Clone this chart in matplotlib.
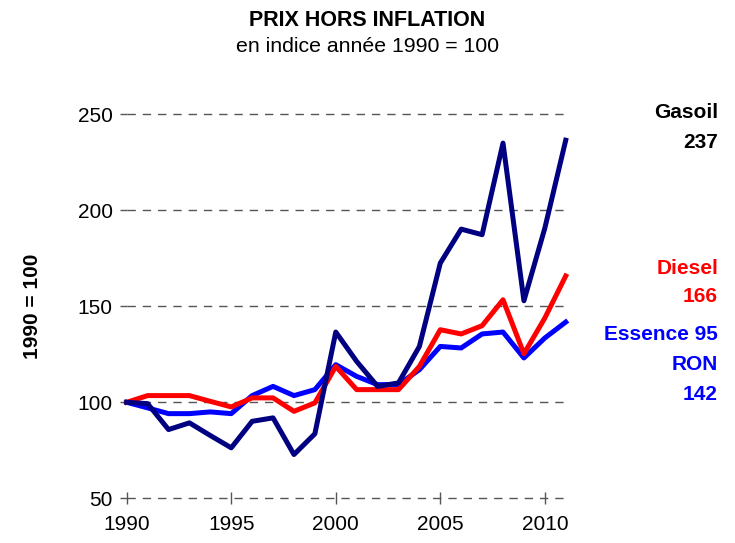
import matplotlib.pyplot as plt

plt.rcParams['font.family'] = ['Liberation Sans', 'DejaVu Sans']

years = list(range(1990, 2012))

gasoil = [100, 99.3, 85.8, 89.3, 82.7, 76.3, 90.1, 91.9, 72.8, 83.6, 136.6,
          121.3, 108.3, 110.1, 129.1, 172.5, 190.2, 187.3, 235.0, 152.9, 190.7, 236.5]
diesel = [100, 103.5, 103.5, 103.5, 100.5, 97.6, 102.3, 102.3, 95.3, 99.7, 118.7,
          106.6, 106.6, 106.6, 118.7, 137.8, 135.6, 139.9, 153.4, 125.3, 143.9, 165.8]
essence = [100, 97.1, 94.1, 94.1, 95.0, 94.1, 103.5, 108.3, 103.5, 106.6, 119.6,
           113.5, 109.2, 109.2, 117.0, 129.1, 128.3, 135.6, 136.6, 123.1, 133.5, 141.8]

yticks = [50, 100, 150, 200, 250]
xticks = [1990, 1995, 2000, 2005, 2010]

fig = plt.figure(figsize=(7.35, 5.43), dpi=100)
ax = fig.add_axes([0.1724, 0.0823, 0.5973, 0.7072])

# gridlines first, then the series (navy on top)
for y in yticks:
    ax.axhline(y, color='#555555', lw=1.0, ls=(0, (6, 5)), zorder=1, clip_on=False)

ax.plot(years, essence, color='#0000FF', lw=3.6, zorder=3, clip_on=False)
ax.plot(years, diesel, color='#FF0000', lw=3.6, zorder=4, clip_on=False)
ax.plot(years, gasoil, color='#000080', lw=3.6, zorder=5, clip_on=False)

ax.set_xlim(1990, 2011)
ax.set_ylim(50, 250)
ax.set_xticks(xticks)
ax.set_yticks(yticks)
for s in ax.spines.values():
    s.set_visible(False)
ax.tick_params(axis='y', length=5, width=1, color='#555555', labelsize=15, pad=5)
ax.tick_params(axis='x', direction='inout', length=8, width=1, color='#555555',
               labelsize=15, pad=8)
ax.set_ylabel('1990 = 100', fontsize=15, fontweight='bold', labelpad=26)

fig.text(0.5, 1 - 20 / 543, 'PRIX HORS INFLATION', ha='center', va='center',
         fontsize=15.5, fontweight='bold')
fig.text(0.5, 1 - 46 / 543, 'en indice année 1990 = 100', ha='center', va='center',
         fontsize=15.3)

# labels at the right side
labels = [('Gasoil', 113, 'black'), ('237', 143, 'black'),
          ('Diesel', 268, '#FF0000'), ('166', 297, '#FF0000'),
          ('Essence 95', 335, '#0000FF'), ('RON', 365, '#0000FF'), ('142', 395, '#0000FF')]
for txt, py, col in labels:
    fig.text(718 / 735, 1 - py / 543, txt, ha='right', va='center', fontsize=15,
             fontweight='bold', color=col)

fig.savefig('out.png', dpi=100)
